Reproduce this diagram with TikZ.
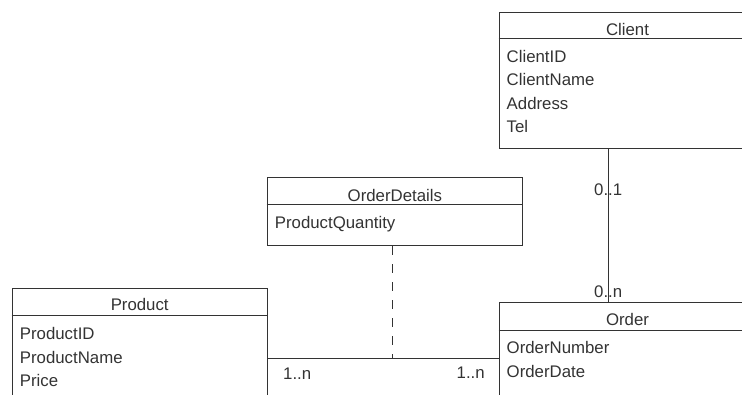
\documentclass[tikz,border=0pt]{standalone}
\usepackage{fontspec}
\setmainfont{Liberation Sans}
\begin{document}
\begin{tikzpicture}[x=1pt,y=-1pt,
  classbox/.style={draw=black!80, line width=1pt, rectangle, inner sep=0pt, anchor=north west},
  divider/.style={draw=black!80, line width=1pt},
  classname/.style={font=\fontsize{16.8}{20}\selectfont, text=black!80, inner sep=0pt, anchor=base},
  attr/.style={font=\fontsize{16.8}{20}\selectfont, text=black!80, inner sep=0pt, anchor=base west},
  link/.style={draw=black!80, line width=1pt},
  mult/.style={font=\fontsize{16.8}{20}\selectfont, text=black!80, inner sep=0pt, anchor=base west}]
\useasboundingbox (0,0) rectangle (742,394);
\clip (0,0) rectangle (742,394);

% Client class
\node[classbox, minimum width=257pt, minimum height=136.3pt] (client) at (498.5,12) {};
\draw[divider] ([yshift=-26.3pt]client.north west) -- ([yshift=-26.3pt]client.north east);
\node[classname] (client-name) at ([yshift=-23pt]client.north) {Client};
\node[attr] (client-a1) at ([xshift=8pt,yshift=-50pt]client.north west) {ClientID};
\node[attr] (client-a2) at ([xshift=8pt,yshift=-73.5pt]client.north west) {ClientName};
\node[attr] (client-a3) at ([xshift=8pt,yshift=-97pt]client.north west) {Address};
\node[attr] (client-a4) at ([xshift=8pt,yshift=-120pt]client.north west) {Tel};

% OrderDetails association class
\node[classbox, minimum width=255.3pt, minimum height=67.7pt] (details) at (266.7,177.3) {};
\draw[divider] ([yshift=-27pt]details.north west) -- ([yshift=-27pt]details.north east);
\node[classname] (details-name) at ([yshift=-23.7pt]details.north) {OrderDetails};
\node[attr] (details-a1) at ([xshift=8pt,yshift=-50.7pt]details.north west) {ProductQuantity};

% Product class
\node[classbox, minimum width=255pt, minimum height=140pt] (product) at (11.7,288.3) {};
\draw[divider] ([yshift=-26.7pt]product.north west) -- ([yshift=-26.7pt]product.north east);
\node[classname] (product-name) at ([yshift=-21.7pt]product.north) {Product};
\node[attr] (product-a1) at ([xshift=8pt,yshift=-50.7pt]product.north west) {ProductID};
\node[attr] (product-a2) at ([xshift=8pt,yshift=-74.7pt]product.north west) {ProductName};
\node[attr] (product-a3) at ([xshift=8pt,yshift=-97.7pt]product.north west) {Price};

% Order class
\node[classbox, minimum width=257pt, minimum height=112.6pt] (order) at (498.5,302) {};
\draw[divider] ([yshift=-28pt]order.north west) -- ([yshift=-28pt]order.north east);
\node[classname] (order-name) at ([yshift=-23pt]order.north) {Order};
\node[attr] (order-a1) at ([xshift=8pt,yshift=-51pt]order.north west) {OrderNumber};
\node[attr] (order-a2) at ([xshift=8pt,yshift=-75pt]order.north west) {OrderDate};

% Client -- Order association
\draw[link] ([xshift=-19pt]client.south) -- ([xshift=-19pt]order.north);
\node[mult] (m-client) at (594,195) {0..1};
\node[mult] (m-order) at (594,297) {0..n};

% Product -- Order association with its association class
\coordinate (join) at (392,358.3);
\draw[link] (product.east) -- (order.west);
\draw[link, dash pattern=on 9pt off 9pt] (details.south -| join) -- (join);
\node[mult] (m-product) at (283,379) {1..n};
\node[mult] (m-order2) at (456.5,378) {1..n};
\end{tikzpicture}
\end{document}
